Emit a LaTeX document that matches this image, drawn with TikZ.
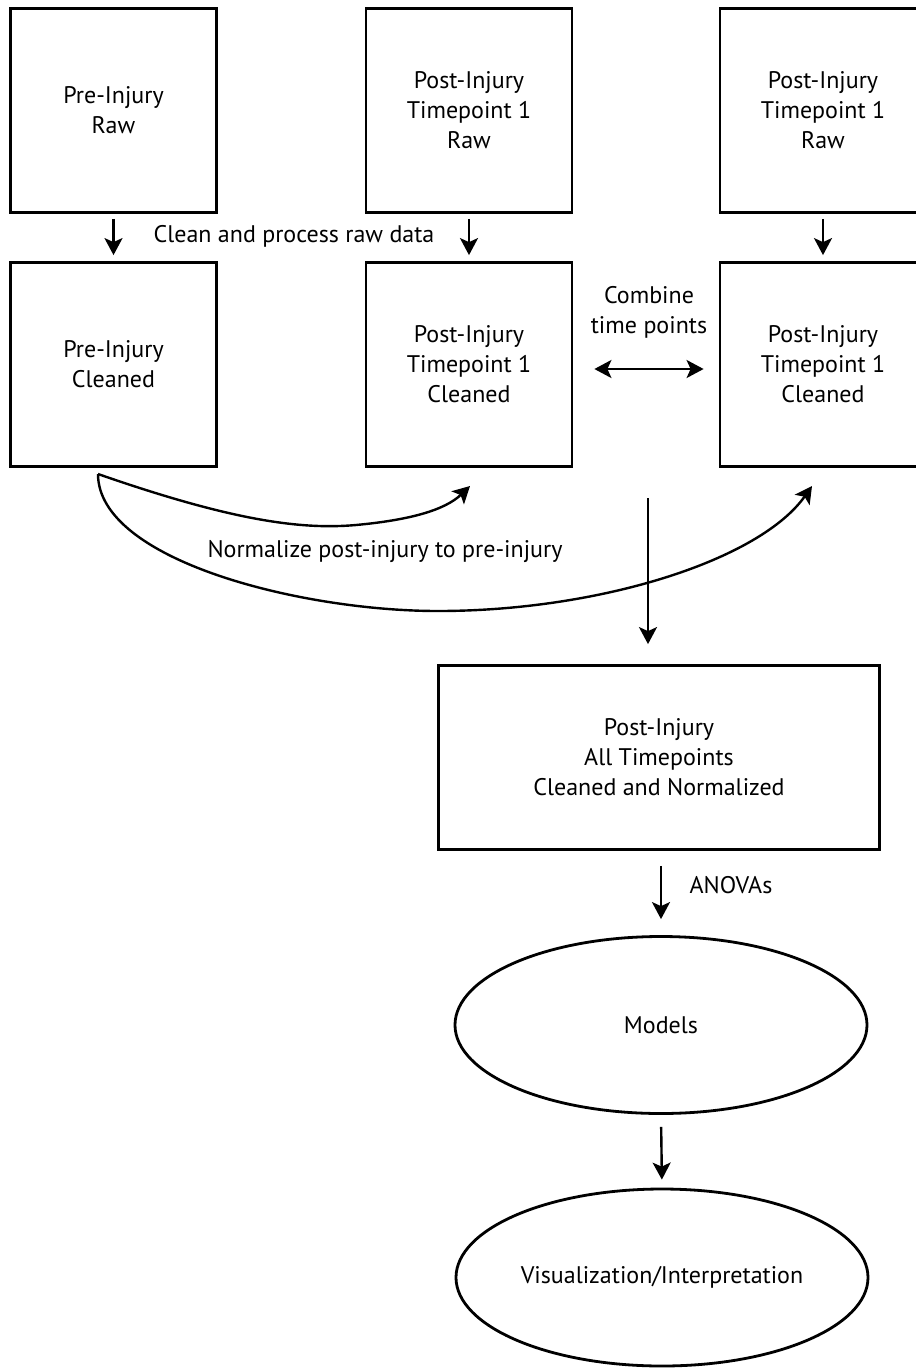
\documentclass[tikz,border=0pt]{standalone}
\usepackage{fontspec}
\setmainfont{PT Sans}
\usetikzlibrary{arrows.meta,shapes.geometric,calc}
\begin{document}
\begin{tikzpicture}[x=1pt,y=-1pt,
  every node/.style={font=\fontsize{24}{30}\selectfont, text=black},
  box/.style={draw, line width=2.8pt, minimum width=206pt, minimum height=204pt, align=center, inner sep=0pt},
  bigbox/.style={draw, line width=2.8pt, minimum width=441pt, minimum height=184pt, align=center, inner sep=0pt},
  oval/.style={draw, ellipse, line width=2.8pt, minimum width=412pt, minimum height=177pt, inner sep=0pt},
  lbl/.style={align=center, inner sep=0pt},
  arr/.style={line width=2.4pt, -{Stealth[length=17pt,width=18pt,inset=4pt]}},
  darr/.style={line width=2.4pt, {Stealth[length=17pt,width=18pt,inset=4pt]}-{Stealth[length=17pt,width=18pt,inset=4pt]}}
]
\useasboundingbox (0,0) rectangle (916,1369);
\clip (0,0) rectangle (916,1369);
% top row
\node[box] (preraw) at (113.5,110.5) {Pre-Injury\\Raw};
\node[box] (postraw) at (469,110.5) {Post-Injury\\Timepoint 1\\Raw};
\node[box] (postraw2) at (823,110.5) {Post-Injury\\Timepoint 1\\Raw};
% second row
\node[box] (preclean) at (113.5,364.5) {Pre-Injury\\Cleaned};
\node[box] (postclean) at (469,364.5) {Post-Injury\\Timepoint 1\\Cleaned};
\node[box] (postclean2) at (823,364.5) {Post-Injury\\Timepoint 1\\Cleaned};
% big box and ellipses
\node[bigbox] (all) at (659,757.5) {Post-Injury\\All Timepoints\\Cleaned and Normalized};
\node[oval] (models) at (661,1025) {Models};
\node[oval] (vis) at (662,1277.5) {Visualization/Interpretation};
% labels
\node[lbl] (cleanlbl) at (294,236) {Clean and process raw data};
\node[lbl] (comblbl) at (649,312) {Combine\\time points};
\node[lbl] (normlbl) at (385,552) {Normalize post-injury to pre-injury};
\node[lbl] (anovalbl) at (731,885) {ANOVAs};
% down arrows top
\draw[arr, shorten <=5pt, shorten >=6pt] (preraw.south) -- (preclean.north);
\draw[arr, shorten <=5pt, shorten >=6pt] (postraw.south) -- (postclean.north);
\draw[arr, shorten <=5pt, shorten >=6pt] (postraw2.south) -- (postclean2.north);
% combine double arrow
\draw[darr, shorten <=21pt, shorten >=15pt] ([yshift=-4.5pt]postclean.east) -- ([yshift=-4.5pt]postclean2.west);
% normalize curves
\coordinate (nstart) at (98,474);
\coordinate (nend1) at (470,486);
\coordinate (nend2) at (812,486);
\draw[arr] (nstart) .. controls (230,520) and (300,530) .. (356,525)
  .. controls (410,520) and (445,510) .. (nend1);
\draw[arr] (nstart) .. controls (98,560) and (300,611) .. (438,611)
  .. controls (600,611) and (760,560) .. (nend2);
% combine to all
\coordinate (cstart) at (648,498);
\draw[arr, shorten >=20pt] (cstart) -- (cstart |- all.north);
% anova arrow
\draw[arr, shorten <=15pt, shorten >=16pt] (models.north |- all.south) -- (models.north);
% models to vis
\draw[arr, shorten <=12pt, shorten >=8pt] (models.south) -- (vis.north);
\end{tikzpicture}
\end{document}
